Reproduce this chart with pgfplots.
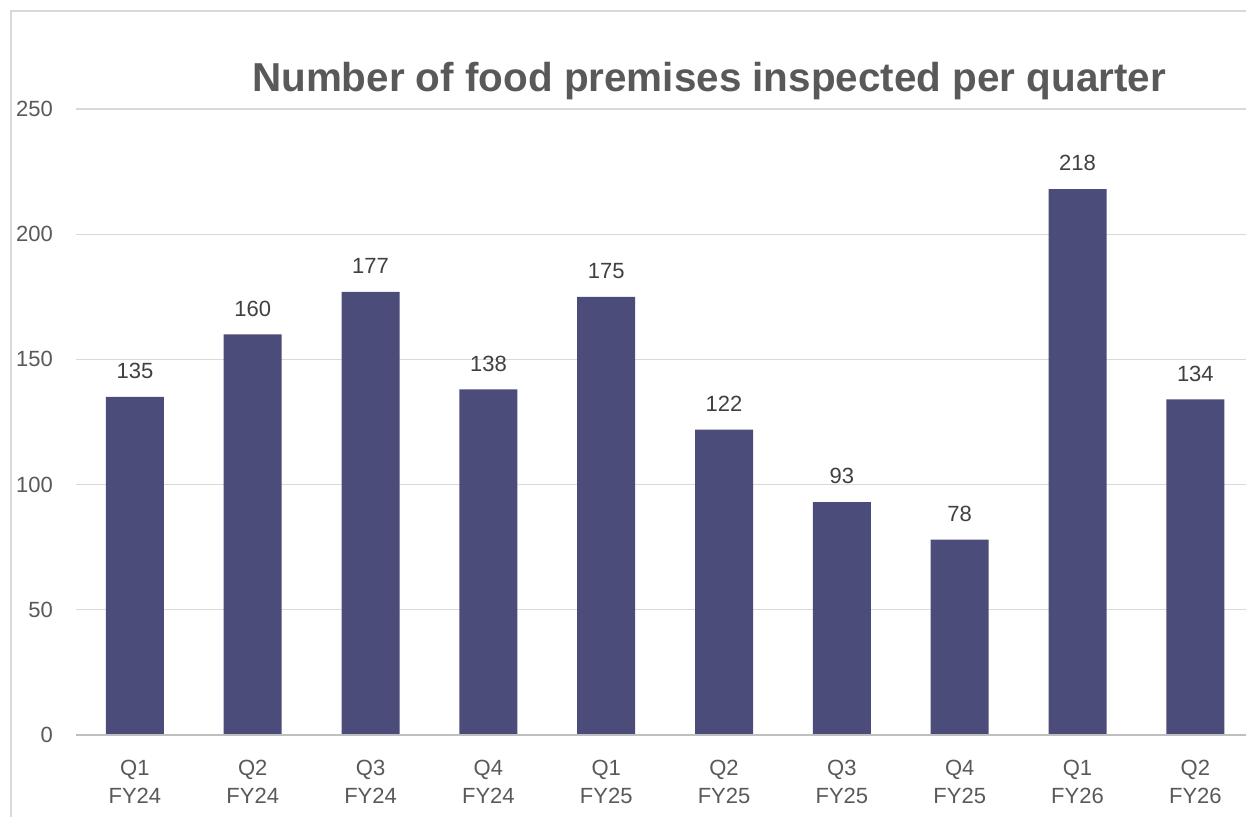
\documentclass[border=0pt]{standalone}
\usepackage{pgfplots}
\pgfplotsset{compat=1.18}
\usepackage{fontspec}
\setmainfont{Liberation Sans}
\definecolor{barc}{HTML}{4B4C7A}
\definecolor{tick}{HTML}{595959}
\definecolor{lab}{HTML}{404040}
\definecolor{gridc}{HTML}{D9D9D9}
\definecolor{axc}{HTML}{BFBFBF}
\begin{document}
\begin{tikzpicture}
\path[use as bounding box] (0,0) rectangle (623pt,408pt);
\clip (0,0) rectangle (623pt,408pt);
\draw[color=gridc, line width=1pt] (5.5pt,-5pt) -- (5.5pt,402.5pt) -- (630pt,402.5pt);
\begin{axis}[
  at={(38pt,40.5pt)}, anchor=south west,
  scale only axis, width=585pt, height=313pt,
  xmin=-0.5, xmax=9.43, ymin=0, ymax=250,
  axis line style={draw=none},
  ytick={0,50,100,150,200,250},
  ymajorgrids, grid style={color=gridc, line width=0.6pt},
  major tick length=0pt,
  xtick={0,...,9},
  xticklabels={{Q1\\FY24},{Q2\\FY24},{Q3\\FY24},{Q4\\FY24},{Q1\\FY25},{Q2\\FY25},{Q3\\FY25},{Q4\\FY25},{Q1\\FY26},{Q2\\FY26}},
  xticklabel style={align=center, font=\fontsize{11}{14}\selectfont, text=tick, yshift=-9pt},
  yticklabel style={font=\fontsize{11}{13}\selectfont, text=tick, xshift=-8pt},
  /pgf/number format/assume math mode=true,
  ybar, bar width=29pt,
  nodes near coords,
  every node near coord/.append style={font=\fontsize{11}{13}\selectfont, text=lab, yshift=5.5pt},
  clip=false,
]
\addplot[fill=barc, draw=none] coordinates {(0,135) (1,160) (2,177) (3,138) (4,175) (5,122) (6,93) (7,78) (8,218) (9,134)};
\draw[color=axc, line width=1.2pt] (axis cs:-0.5,0) -- (axis cs:9.43,0);
\end{axis}
\node[font=\fontsize{20.2}{23}\selectfont\bfseries, text=tick] at (354.5pt,367.5pt) {Number of food premises inspected per quarter};
\end{tikzpicture}
\end{document}
